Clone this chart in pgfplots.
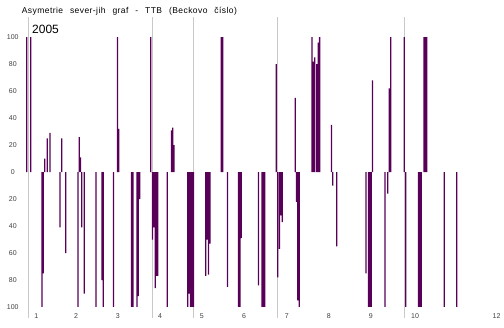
\documentclass[border=0pt]{standalone}
\usepackage{fontspec}
\setmainfont{Liberation Sans}
\newfontfamily\titlefont[LetterSpace=5,WordSpace=2.5]{Liberation Sans}
\usepackage{pgfplots}
\usepackage{pgfplotstable}
\pgfplotsset{compat=1.18}
\definecolor{barc}{RGB}{88,0,88}
\definecolor{gline}{RGB}{200,200,200}
\pgfplotstableread{
x y
0.969 100
1.065 100
1.335 -100
1.366 -75
1.400 10
1.462 25
1.526 29
1.766 -41
1.806 25
1.902 -60
2.196 -100
2.227 26
2.256 11
2.285 -41
2.347 -90
2.627 -100
2.770 -80
2.801 -100
3.048 -100
3.141 100
3.170 32
3.476 -100
3.510 -100
3.608 -100
3.639 -92
3.672 -20
3.935 100
3.978 -50
4.012 -41
4.043 -86
4.074 -77
4.105 -77
4.333 -100
4.433 31
4.464 33
4.493 20
4.823 -100
4.856 -90
4.890 -100
4.923 -100
4.957 -100
5.254 -77
5.287 -50
5.321 -76
5.354 -53
5.624 100
5.658 100
5.773 -85
6.036 -100
6.069 -100
6.103 -49
6.514 -84
6.598 -100
6.632 -100
6.665 -100
6.940 80
6.974 -78
7.017 -57
7.050 -32
7.084 -37
7.392 55
7.423 -22
7.457 -95
7.490 -100
7.794 100
7.828 82
7.862 85
7.909 80
7.943 96
7.978 100
8.261 35
8.292 -10
8.385 -55
9.086 -75
9.146 -100
9.179 -100
9.213 -100
9.244 68
9.541 -100
9.605 -16
9.643 62
9.677 100
10.002 100
10.036 -100
10.342 -100
10.376 -100
10.409 -100
10.474 100
10.507 100
10.541 100
10.959 -100
11.256 -100
}\datatable
\begin{document}
\begin{tikzpicture}
\useasboundingbox (-23.8pt,-16.95pt) rectangle (480.2pt,311.05pt);
\begin{axis}[
  at={(0,0)}, anchor=south west,
  scale only axis, width=476.5pt, height=294.05pt,
  xmin=0.9, xmax=12.3, ymin=-103, ymax=115,
  clip=false,
  axis line style={draw=none},
  major tick length=0pt,
  xtick={1.2,2.15,3.15,4.16,5.16,6.17,7.19,8.2,9.2,10.26,12.21},
  xticklabels={1,2,3,4,5,6,7,8,9,10,12},
  ytick={-100,-80,-60,-40,-20,0,20,40,60,80,100},
  yticklabels={100,80,60,40,20,0,20,40,60,80,100},
  tick label style={font=\fontsize{7}{8}\selectfont, text=black!75},
  xticklabel style={anchor=center, yshift=-5pt},
  yticklabel style={anchor=center, xshift=-11pt},
  /pgf/number format/assume math mode=true,
]
\addplot[gline, line width=0.8pt] coordinates {(1.007,-108) (1.007,115)};
\addplot[gline, line width=0.8pt] coordinates {(3.983,-108) (3.983,115)};
\addplot[gline, line width=0.8pt] coordinates {(4.955,-108) (4.955,115)};
\addplot[gline, line width=0.8pt] coordinates {(6.974,-108) (6.974,115)};
\addplot[gline, line width=0.8pt] coordinates {(10.002,-108) (10.002,115)};
\addplot[ybar, bar width=1.3pt, fill=barc, draw=none] table[x=x,y=y] {\datatable};
\end{axis}
\node[anchor=base west, inner sep=0pt, font=\titlefont\fontsize{8.5}{10}\selectfont] at (-2.1pt,297.7pt) {Asymetrie sever-jih graf - TTB (Beckovo číslo)};
\node[anchor=base west, inner sep=0pt, font=\fontsize{12}{14}\selectfont] at (8.2pt,277.7pt) {2005};
\end{tikzpicture}
\end{document}
